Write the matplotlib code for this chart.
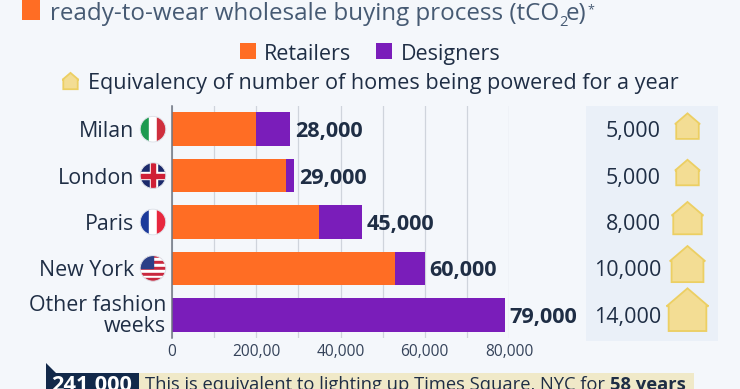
import numpy as np
import matplotlib
matplotlib.use("Agg")
import matplotlib.pyplot as plt
from matplotlib.patches import Circle, Polygon, Rectangle

plt.rcParams['font.family'] = ['Open Sans', 'DejaVu Sans']

# Data
cities = ['Milan', 'London', 'Paris', 'New York', 'Other fashion\nweeks']
retailers = [20000, 27000, 35000, 53000, 0]
designers = [8000, 2000, 10000, 7000, 79000]
totals = ['28,000', '29,000', '45,000', '60,000', '79,000']
homes = [5000, 5000, 8000, 10000, 14000]
home_labels = ['5,000', '5,000', '8,000', '10,000', '14,000']
tick_values = [0, 20000, 40000, 60000, 80000]
tick_labels = ['0', '200,00', '40,000', '60,000', '80,000']

# Colours
bg = '#f4f7fb'
orange = '#ff6d24'
purple = '#7a1dba'
dark = '#1f2e45'
house_fill = '#f3dd94'
house_edge = '#eccf63'

W, H = 740, 389
fig = plt.figure(figsize=(W / 100, H / 100), dpi=100, facecolor=bg)

# pixel overlay for the decoration
ov = fig.add_axes([0, 0, 1, 1], zorder=0)
ov.set_xlim(0, W)
ov.set_ylim(H, 0)
ov.axis('off')
ov.add_patch(Rectangle((586, 106), 132, 235, color='#eaf0f8', lw=0))

# bars
left, right, top, bottom = 172, 509, 106, 338
ax = fig.add_axes([left / W, 1 - bottom / H, (right - left) / W, (bottom - top) / H], zorder=1)
ax.patch.set_alpha(0)
y = np.arange(len(cities))
ax.barh(y, retailers, height=0.72, color=orange, zorder=3)
ax.barh(y, designers, left=retailers, height=0.72, color=purple, zorder=3)
ax.set_xlim(0, 80000)
ax.set_ylim(4.5, -0.5)
ax.set_xticks(tick_values)
ax.set_xticklabels(tick_labels, fontsize=11.2, color='#35435a')
ax.set_xticks(np.arange(0, 80001, 10000), minor=True)
ax.set_yticks([])
ax.grid(axis='x', which='both', color='#cfd4dc', lw=0.9, zorder=0)
ax.tick_params(axis='x', which='both', length=0, pad=4)
for s in ['top', 'right', 'bottom']:
    ax.spines[s].set_visible(False)
ax.spines['left'].set_color('#6d7480')
ax.spines['left'].set_linewidth(1.1)
ax.spines['left'].set_zorder(4)

for i, t in enumerate(totals):
    ax.annotate(t, (retailers[i] + designers[i], i), xytext=(3.5, 0), textcoords='offset points',
                ha='left', va='center_baseline', fontsize=15.6, fontweight='bold', color=dark)


def row_y(i):
    return top + (bottom - top) * (i + 0.5) / len(cities)


def house(cx, cy, w, zorder=2):
    h = w * 1.02
    base = cy + h * 0.38
    eave = base - h * 0.58
    pts = [(cx - w * 0.45, base), (cx - w * 0.45, eave), (cx - w * 0.5, eave),
           (cx, base - h), (cx + w * 0.5, eave), (cx + w * 0.45, eave), (cx + w * 0.45, base)]
    ov.add_patch(Polygon(pts, closed=True, fc=house_fill, ec=house_edge, lw=1.3, zorder=zorder))


def flag(name, cx, cy, r=12.8):
    clip = Circle((cx, cy), r, transform=ov.transData)
    parts = []
    if name == 'Milan':
        parts += [Rectangle((cx - r, cy - r), 2 * r / 3, 2 * r, color='#1d9a50'),
                  Rectangle((cx - r / 3, cy - r), 2 * r / 3, 2 * r, color='white'),
                  Rectangle((cx + r / 3, cy - r), 2 * r / 3, 2 * r, color='#cf2f3d')]
    elif name == 'Paris':
        parts += [Rectangle((cx - r, cy - r), 2 * r / 3, 2 * r, color='#1b3a9b'),
                  Rectangle((cx - r / 3, cy - r), 2 * r / 3, 2 * r, color='white'),
                  Rectangle((cx + r / 3, cy - r), 2 * r / 3, 2 * r, color='#e8283e')]
    elif name == 'London':
        parts.append(Rectangle((cx - r, cy - r), 2 * r, 2 * r, color='#1b2a6b'))
        for sign, col, lw in [(1, 'white', 3.2), (-1, 'white', 3.2), (1, '#cf2036', 1.1), (-1, '#cf2036', 1.1)]:
            parts += ov.plot([cx - r, cx + r], [cy - sign * r, cy + sign * r], color=col, lw=lw, zorder=2)
        parts += [Rectangle((cx - r, cy - 3.5), 2 * r, 7, color='white'),
                  Rectangle((cx - 3.5, cy - r), 7, 2 * r, color='white'),
                  Rectangle((cx - r, cy - 2), 2 * r, 4, color='#cf2036'),
                  Rectangle((cx - 2, cy - r), 4, 2 * r, color='#cf2036')]
    else:
        for k in range(9):
            parts.append(Rectangle((cx - r, cy - r + k * 2 * r / 9), 2 * r, 2 * r / 9,
                                   color='#c9283e' if k % 2 == 0 else 'white'))
        parts.append(Rectangle((cx - r, cy - r), r, r, color='#2b3f87'))
    for p in parts:
        if p.axes is None:
            ov.add_patch(p)
        p.set_zorder(3)
        p.set_clip_path(clip)
    ov.add_patch(Circle((cx, cy), r, fc='none', ec='#dfe3ea', lw=0.7, zorder=4))


# rows
for i, c in enumerate(cities):
    yy = row_y(i)
    if '\n' in c:
        ov.text(166, yy + 1.5, c, ha='right', va='center', fontsize=15.4, color=dark, linespacing=1.02)
    else:
        ov.text(134, yy, c, ha='right', va='center_baseline', fontsize=15.4, color=dark)
        flag(c, 153, yy)
    ov.text(661, yy, home_labels[i], ha='right', va='center_baseline', fontsize=15.5, color=dark)
    house(687.5, yy, 0.354 * np.sqrt(homes[i]))

# title and legend
title_col = '#465a73'
ov.add_patch(Rectangle((22, -2), 18, 22, color=orange, lw=0))
ov.text(50, 20, 'ready-to-wear wholesale buying process (tCO', ha='left', va='baseline',
        fontsize=17.35, color=title_col)
ov.text(559, 26, '2', ha='left', va='baseline', fontsize=10.5, color=title_col)
ov.text(566, 20, 'e)', ha='left', va='baseline', fontsize=17.35, color=title_col)
ov.text(587, 13, '*', ha='left', va='baseline', fontsize=9, color=title_col)
ov.add_patch(Rectangle((240, 43), 16, 16, color=orange, lw=0))
ov.text(264, 52, 'Retailers', ha='left', va='center_baseline', fontsize=15.5, color=dark)
ov.add_patch(Rectangle((376, 43), 16, 16, color=purple, lw=0))
ov.text(401, 52, 'Designers', ha='left', va='center_baseline', fontsize=15.5, color=dark)
house(70.5, 83, 16)
ov.text(88, 81, 'Equivalency of number of homes being powered for a year', ha='left',
        va='center_baseline', fontsize=15.6, color=dark)

# bottom note
ov.add_patch(Polygon([(46, 389), (46, 363), (56, 373), (139, 373), (139, 389)], color='#12294a', lw=0))
ov.add_patch(Rectangle((139, 373), 555, 16, color='#f0e9c8', lw=0))
ov.text(92, 383, '241,000', ha='center', va='center_baseline', fontsize=15.7, fontweight='bold', color='white')
t1 = ov.text(145, 383, 'This is equivalent to lighting up Times Square, NYC for ', ha='left',
             va='center_baseline', fontsize=13.25, color=dark)
ov.annotate('58 years', xy=(1, 0), xycoords=t1, xytext=(0, 0), textcoords='offset points',
            ha='left', va='bottom', fontsize=13.25, fontweight='bold', color=dark)

fig.savefig('out.png', dpi=100, facecolor=bg)
